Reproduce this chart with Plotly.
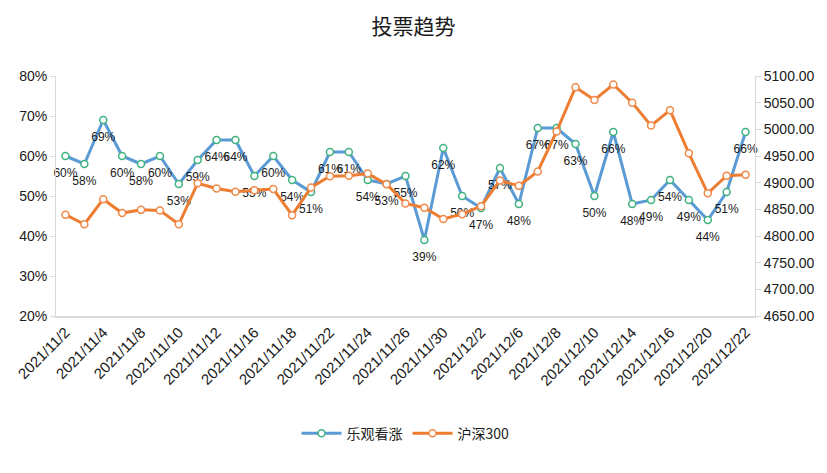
import plotly.graph_objects as go

dates = ["2021/11/2", "2021/11/3", "2021/11/4", "2021/11/5", "2021/11/8", "2021/11/9",
         "2021/11/10", "2021/11/11", "2021/11/12", "2021/11/15", "2021/11/16", "2021/11/17",
         "2021/11/18", "2021/11/19", "2021/11/22", "2021/11/23", "2021/11/24", "2021/11/25",
         "2021/11/26", "2021/11/29", "2021/11/30", "2021/12/1", "2021/12/2", "2021/12/3",
         "2021/12/6", "2021/12/7", "2021/12/8", "2021/12/9", "2021/12/10", "2021/12/13",
         "2021/12/14", "2021/12/15", "2021/12/16", "2021/12/17", "2021/12/20", "2021/12/21",
         "2021/12/22"]

bullish = [0.60, 0.58, 0.69, 0.60, 0.58, 0.60, 0.53, 0.59, 0.64, 0.64, 0.55, 0.60,
           0.54, 0.51, 0.61, 0.61, 0.54, 0.53, 0.55, 0.39, 0.62, 0.50, 0.47, 0.57,
           0.48, 0.67, 0.67, 0.63, 0.50, 0.66, 0.48, 0.49, 0.54, 0.49, 0.44, 0.51, 0.66]

hs300 = [4840, 4822, 4869, 4843, 4849, 4848, 4822, 4899, 4889, 4883, 4886, 4888,
         4839, 4891, 4912, 4913, 4917, 4897, 4861, 4853, 4832, 4841, 4856, 4904,
         4894, 4921, 4996, 5079, 5055, 5084, 5050, 5007, 5036, 4955, 4880, 4913, 4915]

tick_dates = dates[::2]

bullish_labels = [f"{round(v * 100)}%" for v in bullish]

font_main = "Liberation Sans, Noto Sans CJK SC, sans-serif"

fig = go.Figure()
fig.add_trace(go.Scatter(
    x=dates, y=bullish, name="乐观看涨", mode="lines+markers",
    line=dict(color="#5B9BD5", width=3),
    marker=dict(size=7, color="white", line=dict(color="#3FB27F", width=1.5)),
    yaxis="y", cliponaxis=False,
))
# data labels for the bullish series (invisible large markers push text further below the point)
fig.add_trace(go.Scatter(
    x=dates, y=bullish, mode="text+markers", showlegend=False, hoverinfo="skip",
    marker=dict(size=17, color="rgba(0,0,0,0)"),
    text=bullish_labels, textposition="bottom center",
    textfont=dict(size=12, color="#1a1a1a", family=font_main),
    yaxis="y", cliponaxis=False,
))
fig.add_trace(go.Scatter(
    x=dates, y=hs300, name="沪深300", mode="lines+markers",
    line=dict(color="#ED7D31", width=3),
    marker=dict(size=7, color="white", line=dict(color="#F0894A", width=1.5)),
    yaxis="y2", cliponaxis=False,
))

fig.update_layout(
    width=827, height=473,
    margin=dict(l=56, r=72, t=76, b=157, autoexpand=False),
    paper_bgcolor="white", plot_bgcolor="white",
    title=dict(text="投票趋势", x=0.5, xanchor="center", y=0.943, yanchor="middle",
               font=dict(size=21, color="#1a1a1a", family="Noto Sans CJK SC, serif")),
    font=dict(family=font_main, color="#1a1a1a", size=13),
    showlegend=True,
    legend=dict(orientation="h", x=0.5, xanchor="center", y=-0.49, yanchor="middle",
                font=dict(size=14, family="Noto Sans CJK SC, sans-serif", color="#1a1a1a"),
                itemwidth=40, tracegroupgap=0),
    xaxis=dict(
        type="category", range=[-0.5, len(dates) - 0.5], automargin=False,
        tickmode="array", tickvals=tick_dates, ticktext=tick_dates,
        tickangle=-45, tickfont=dict(size=15),
        showline=True, linecolor="#D9D9D9", linewidth=1.5,
        showgrid=False, zeroline=False, ticks="",
    ),
    yaxis=dict(
        range=[0.2, 0.8], dtick=0.1, tickformat=".0%", automargin=False,
        showline=True, linecolor="#D9D9D9", linewidth=1,
        ticks="outside", ticklen=5, tickcolor="#D9D9D9",
        showgrid=False, zeroline=False, tickfont=dict(size=14),
    ),
    yaxis2=dict(
        range=[4650, 5100], dtick=50, tickformat=".2f", overlaying="y", side="right",
        automargin=False,
        showline=True, linecolor="#D9D9D9", linewidth=1,
        ticks="outside", ticklen=5, tickcolor="#D9D9D9",
        showgrid=False, zeroline=False, tickfont=dict(size=14),
    ),
)

fig.write_html("out.html", config={"displayModeBar": False},
               post_script="document.body.style.margin='0px';")
